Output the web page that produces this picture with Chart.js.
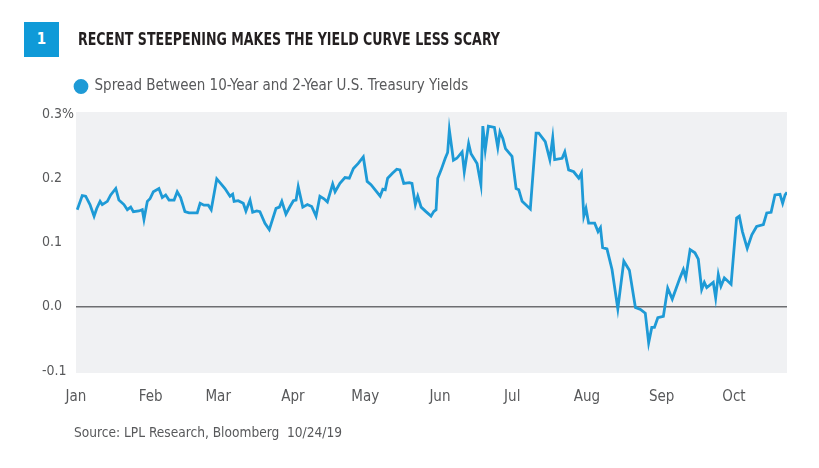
<!DOCTYPE html>
<html>
<head>
<meta charset="utf-8">
<script src="https://cdn.jsdelivr.net/npm/chart.js@4.4.1/dist/chart.umd.min.js"></script>
<style>
  html, body { margin: 0; padding: 0; background: #ffffff; }
  body { width: 819px; height: 468px; position: relative; overflow: hidden;
         font-family: 'Liberation Sans Narrow', 'DejaVu Sans Condensed', 'Roboto', sans-serif; }
  #chartBox { position: absolute; left: 0; top: 0; width: 819px; height: 468px; }
  #badge { position: absolute; left: 24px; top: 22px; width: 35px; height: 35px; background: #0f9ad8;
           color: #ffffff; font-weight: bold; font-size: 15px; line-height: 35px; text-align: center; }
  #title { position: absolute; left: 78px; top: 29px; font-weight: bold; font-size: 17px; line-height: 20px;
           color: #231f20; white-space: nowrap; transform-origin: 0 0; }
  #source { position: absolute; left: 74px; top: 424px; font-size: 14px; line-height: 16px;
            color: #58595b; white-space: pre; transform-origin: 0 0; }
</style>
</head>
<body>
<div id="chartBox"><canvas id="c" width="819" height="468"></canvas></div>
<div id="badge">1</div>
<div id="title">RECENT STEEPENING MAKES THE YIELD CURVE LESS SCARY</div>
<div id="source">Source: LPL Research, Bloomberg  10/24/19</div>
<script>
// ---- data ----
const seriesName = 'Spread Between 10-Year and 2-Year U.S. Treasury Yields';
const monthTickDays = [0, 31, 59, 90, 120, 151, 181, 212, 243, 273];
const monthTickLabels = ['Jan', 'Feb', 'Mar', 'Apr', 'May', 'Jun', 'Jul', 'Aug', 'Sep', 'Oct'];
const yTickValues = [-0.1, 0.0, 0.1, 0.2, 0.3];
// day of year 2019 (0 = Jan 1)
const spreadDays = [
  0.5, 2.6, 4.0, 5.8, 7.5, 8.6, 10.0, 10.9, 13.0, 14.4, 16.5, 17.8, 19.9, 21.3, 22.7, 23.8, 26.1, 27.5, 28.2, 29.6,
  30.7, 32.1, 34.4, 35.8, 37.2, 38.6, 40.7, 42.0, 43.4, 45.2, 46.9, 50.3, 51.5, 53.1, 54.9, 56.1, 58.4, 60.0,
  61.8, 63.9, 65.0, 65.6, 67.3, 69.4, 70.5, 72.2, 73.3, 75.0, 76.3, 78.4, 80.2, 83.0, 84.4, 85.4, 87.1, 88.8,
  90.2, 91.3, 92.2, 94.1, 96.0, 97.8, 99.6, 101.2, 102.9, 104.3, 106.5, 107.5, 109.5, 111.6, 113.4, 115.1,
  117.1, 119.2, 120.8, 122.4, 126.2, 127.3, 128.3, 129.3, 131.4, 133.1, 134.4, 136.0, 138.3, 139.4, 140.8,
  141.8, 143.2, 145.2, 147.3, 148.4, 149.4, 150.1, 151.5, 153.2, 154.2, 154.9, 156.6, 158.0, 160.2, 161.1,
  162.9, 163.9, 166.4, 168.0, 168.8, 169.8, 171.1, 173.6, 175.0, 175.9, 177.1, 178.2, 180.9, 182.6, 183.7,
  185.1, 188.5, 190.9, 192.0, 194.7, 196.6, 197.8, 198.6, 201.7, 202.8, 204.4, 206.5, 208.6, 209.7, 210.7,
  211.6, 212.7, 215.2, 216.6, 217.6, 218.5, 220.3, 222.4, 224.8, 227.3, 229.6, 232.1, 234.2, 236.2, 237.6,
  238.9, 240.0, 241.4, 243.7, 245.5, 247.4, 250.6, 252.0, 253.0, 254.8, 256.8, 258.2, 259.6, 260.7, 261.7,
  264.4, 265.4, 266.5, 267.6, 269.0, 271.8, 274.1, 275.2, 276.5, 278.5, 280.4, 282.4, 285.2, 286.6, 288.4,
  290.0, 292.1, 293.2, 294.2, 295.0
];
// spread, percentage points
const spreadValues = [
  0.151, 0.173, 0.172, 0.159, 0.141, 0.153, 0.164, 0.159, 0.164, 0.174, 0.184, 0.166, 0.159, 0.151, 0.155, 0.148, 0.149, 0.151, 0.136, 0.164,
  0.168, 0.179, 0.184, 0.170, 0.174, 0.166, 0.166, 0.179, 0.170, 0.148, 0.146, 0.146, 0.161, 0.158, 0.158, 0.151, 0.199, 0.192,
  0.184, 0.172, 0.175, 0.164, 0.165, 0.161, 0.149, 0.166, 0.147, 0.149, 0.148, 0.130, 0.120, 0.153, 0.155, 0.164, 0.144, 0.156,
  0.165, 0.166, 0.187, 0.155, 0.159, 0.156, 0.141, 0.172, 0.168, 0.163, 0.191, 0.179, 0.192, 0.201, 0.200, 0.215,
  0.223, 0.233, 0.195, 0.190, 0.172, 0.183, 0.182, 0.200, 0.208, 0.214, 0.213, 0.192, 0.193, 0.192, 0.159,
  0.172, 0.155, 0.148, 0.141, 0.148, 0.151, 0.200, 0.213, 0.231, 0.240, 0.275, 0.228, 0.231, 0.241, 0.210,
  0.254, 0.238, 0.223, 0.190, 0.281, 0.244, 0.281, 0.279, 0.248, 0.272, 0.262, 0.246, 0.234, 0.184, 0.182,
  0.164, 0.152, 0.270, 0.270, 0.257, 0.229, 0.263, 0.229, 0.231, 0.241, 0.213, 0.210, 0.200, 0.208, 0.141,
  0.153, 0.130, 0.130, 0.117, 0.123, 0.092, 0.090, 0.058, -0.003, 0.071, 0.057, -0.001, -0.004, -0.010, -0.056,
  -0.032, -0.032, -0.017, -0.015, 0.029, 0.012, 0.045, 0.058, 0.045, 0.089, 0.084, 0.074, 0.027, 0.038, 0.030,
  0.038, 0.014, 0.050, 0.032, 0.045, 0.035, 0.138, 0.141, 0.117, 0.091, 0.112, 0.125, 0.128, 0.146, 0.147,
  0.174, 0.175, 0.161, 0.174, 0.178
];

// ---- styling ----
const FONT = "'Liberation Sans Narrow', 'DejaVu Sans Condensed', 'Roboto', sans-serif";
const GRAY_TEXT = '#58595b';
const LINE_BLUE = '#1e9ad6';
const PLOT_BG = '#f0f1f3';
const ZERO_LINE = '#6d6e71';

// fit HTML text to measured widths from the reference
function fitWidth(id, w) {
  const el = document.getElementById(id);
  const cur = el.getBoundingClientRect().width;
  if (cur > 0) el.style.transform = 'scaleX(' + (w / cur) + ')';
}
fitWidth('title', 422);
fitWidth('source', 268);

const plotBackground = {
  id: 'plotBackground',
  beforeDraw(chart) {
    const a = chart.chartArea, ctx = chart.ctx;
    ctx.save();
    ctx.fillStyle = PLOT_BG;
    ctx.fillRect(a.left, a.top, a.right - a.left, a.bottom - a.top);
    ctx.restore();
  }
};
const legendHeight = {
  id: 'legendHeight',
  beforeLayout(chart) {
    const lg = chart.legend;
    if (lg && !lg._patched) {
      const orig = lg.fit;
      lg.fit = function () { orig.call(this); this.height = 66; };
      lg._patched = true;
    }
  }
};

const points = spreadDays.map((d, i) => ({ x: d, y: spreadValues[i] }));

new Chart(document.getElementById('c'), {
  type: 'line',
  data: {
    datasets: [{
      label: seriesName,
      data: points,
      borderColor: LINE_BLUE,
      backgroundColor: LINE_BLUE,
      borderWidth: 2.8,
      pointRadius: 0,
      tension: 0,
      fill: false
    }]
  },
  plugins: [plotBackground, legendHeight],
  options: {
    responsive: false,
    animation: false,
    events: [],
    layout: { padding: { top: 46, left: 42, right: 32, bottom: 50 } },
    plugins: {
      tooltip: { enabled: false },
      legend: {
        position: 'top',
        align: 'start',
        labels: {
          usePointStyle: true,
          pointStyle: 'circle',
          pointStyleWidth: 12,
          boxHeight: 8.5,
          padding: 33,
          color: GRAY_TEXT,
          font: { family: FONT, size: 15 }
        }
      }
    },
    scales: {
      x: {
        type: 'linear',
        min: 0,
        max: 295,
        afterBuildTicks: (s) => { s.ticks = monthTickDays.map(v => ({ value: v })); },
        afterFit: (s) => { s.height = 45; },
        ticks: {
          autoSkip: false,
          maxRotation: 0,
          padding: 15,
          color: GRAY_TEXT,
          font: { family: FONT, size: 15 },
          callback: (v) => monthTickLabels[monthTickDays.indexOf(v)]
        },
        grid: { display: false, drawTicks: false },
        border: { display: false }
      },
      y: {
        min: -0.103,
        max: 0.303,
        afterBuildTicks: (s) => { s.ticks = yTickValues.map(v => ({ value: v })); },
        afterFit: (s) => { s.width = 34; },
        ticks: {
          crossAlign: 'far',
          color: GRAY_TEXT,
          font: { family: FONT, size: 14 },
          callback: (v) => (Math.abs(v - 0.3) < 1e-9 ? '0.3%' : v.toFixed(1))
        },
        grid: {
          drawTicks: false,
          color: (ctx) => (ctx.tick && Math.abs(ctx.tick.value) < 1e-9 ? ZERO_LINE : 'rgba(0,0,0,0)'),
          lineWidth: 1.6
        },
        border: { display: false }
      }
    }
  }
});
</script>
</body>
</html>
